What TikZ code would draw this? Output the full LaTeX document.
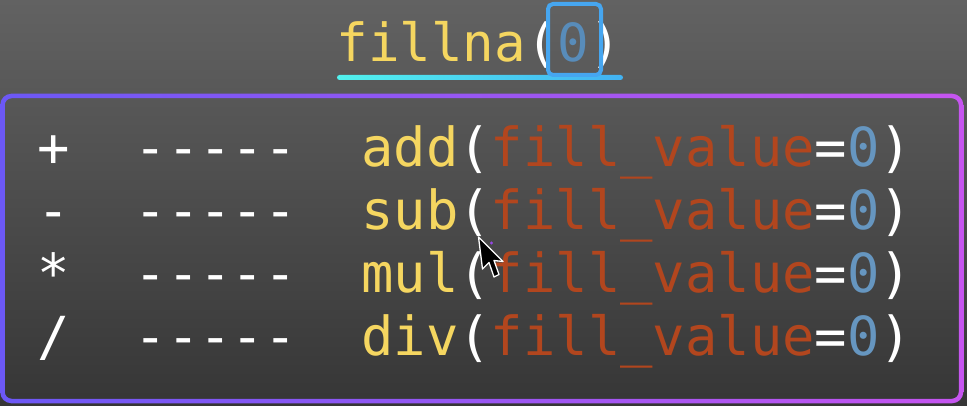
\documentclass[tikz,border=0pt]{standalone}
\usepackage{fontspec}
\newfontfamily\codefont{DejaVu Sans Mono}
\usetikzlibrary{shadings}
\definecolor{bgtop}{RGB}{98,98,98}
\definecolor{bgmid}{RGB}{72,72,72}
\definecolor{bgbot}{RGB}{54,54,54}
\definecolor{codeyellow}{RGB}{245,214,96}
\definecolor{codeorange}{RGB}{178,70,30}
\definecolor{codeblue}{RGB}{102,150,192}
\definecolor{titleblue}{RGB}{88,140,186}
\definecolor{boxblue}{RGB}{70,166,240}
\definecolor{lineL}{RGB}{82,242,238}
\definecolor{lineR}{RGB}{66,178,242}
\definecolor{bordL}{RGB}{108,88,245}
\definecolor{bordR}{RGB}{198,85,240}
\definecolor{cursordot}{RGB}{150,70,230}
\newcommand\dashrow{-\kern0pt-\kern0pt-\kern0pt-\kern0pt-}
\newcommand\callrow[1]{\textcolor{codeyellow}{#1}\textcolor{white}{(}\textcolor{codeorange}{fill\_value}\textcolor{white}{=}\textcolor{codeblue}{0}\textcolor{white}{)}}
\tikzset{
  codetext/.style={anchor=base west, inner sep=0pt, outer sep=0pt, text=white,
    font=\codefont\fontsize{53.8}{63}\selectfont},
  titletext/.style={anchor=base west, inner sep=0pt, outer sep=0pt,
    font=\codefont\fontsize{52.5}{62}\selectfont},
  zerobox/.style={draw=boxblue, line width=4pt, rounded corners=5pt, inner sep=0pt},
}
\begin{document}
\begin{tikzpicture}[x=1pt,y=-1pt]
\useasboundingbox (0,0) rectangle (967,406);
% background
\shade[top color=bgtop, middle color=bgmid, bottom color=bgbot] (0,0) rectangle (967,406);
% title
\node[titletext] (title) at (336.4,62) {\textcolor{codeyellow}{fillna}\textcolor{white}{(}\textcolor{titleblue}{0}\textcolor{white}{)}};
\shade[left color=lineL, right color=lineR, rounded corners=2.5pt] (337,75) rectangle (623,80);
\node[zerobox, minimum width=53pt, minimum height=71pt] (zbox) at (574.5,39.5) {};
% frame
\shade[left color=bordL, right color=bordR, even odd rule]
  [rounded corners=11pt] (0.25,93.75) rectangle (963.25,403.25)
  [rounded corners=7pt] (4.75,98.25) rectangle (958.75,398.75);
% rows
\node[codetext] (op1) at (37.5,166.5) {+};
\node[codetext] (d1) at (134.7,166.5) {\dashrow};
\node[codetext] (c1) at (361.4,166.5) {\callrow{add}};
\node[codetext] (op2) at (37.5,229.5) {-};
\node[codetext] (d2) at (134.7,229.5) {\dashrow};
\node[codetext] (c2) at (361.4,229.5) {\callrow{sub}};
\node[codetext] (op3) at (37.5,292.5) {*};
\node[codetext] (d3) at (134.7,292.5) {\dashrow};
\node[codetext] (c3) at (361.4,292.5) {\callrow{mul}};
\node[codetext] (op4) at (37.5,355.5) {/};
\node[codetext] (d4) at (134.7,355.5) {\dashrow};
\node[codetext] (c4) at (361.4,355.5) {\callrow{div}};
% mouse cursor
\fill[cursordot] (491.5,243) circle (1.6);
\path[fill=black, draw=white, line width=1.3pt, line join=round]
  (478.5,237) -- (482.5,269) -- (489,262.5) -- (494,277) -- (499,274.5) -- (494,260.5) -- (503,261.5) -- cycle;
\end{tikzpicture}
\end{document}
